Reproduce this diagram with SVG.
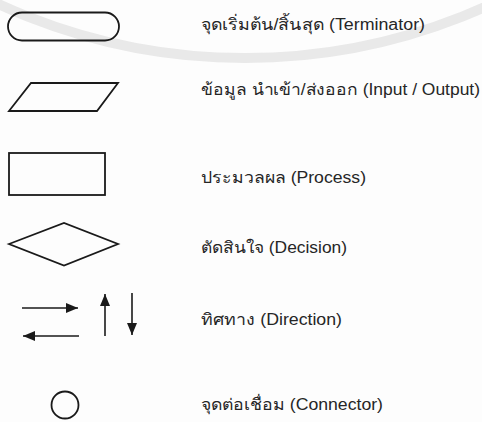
<svg xmlns="http://www.w3.org/2000/svg" width="482" height="422" viewBox="0 0 482 422">
<defs>
<marker id="ah" viewBox="0 0 12 10" refX="12" refY="5" markerWidth="12" markerHeight="10" markerUnits="userSpaceOnUse" orient="auto">
<path d="M0,0 L12,5 L0,10 Z" fill="#1a1a1a"/>
</marker>
<style>
.shape{fill:none;stroke:#1a1a1a;stroke-width:1.8;stroke-linejoin:miter}
.lbl{font-family:"Liberation Sans","Noto Sans",Arial,sans-serif;font-size:16px;fill:#262626}
.arr{stroke:#1a1a1a;stroke-width:1.6;fill:none}
</style>
</defs>
<rect width="482" height="422" fill="#fdfdfd"/>
<g id="watermark">
<circle cx="245" cy="-532" r="590" fill="none" stroke="#e9e9e9" stroke-width="10"/>
</g>
<g id="terminator">
<rect class="shape" x="8" y="12.5" width="111" height="28" rx="14" ry="14"/>
<text class="lbl" x="201" y="30" textLength="224" lengthAdjust="spacingAndGlyphs">จุดเริ่มต้น/สิ้นสุด (Terminator)</text>
</g>
<g id="io">
<polygon class="shape" points="31,83 118,83 97,111 9,111"/>
<text class="lbl" x="201" y="95" textLength="279" lengthAdjust="spacingAndGlyphs">ข้อมูล นำเข้า/ส่งออก (Input / Output)</text>
</g>
<g id="process">
<rect class="shape" x="9" y="153" width="96" height="42"/>
<text class="lbl" x="201" y="183" textLength="165" lengthAdjust="spacingAndGlyphs">ประมวลผล (Process)</text>
</g>
<g id="decision">
<polygon class="shape" points="9,244 64,223 118,244 64,265.5"/>
<text class="lbl" x="201" y="253" textLength="146" lengthAdjust="spacingAndGlyphs">ตัดสินใจ (Decision)</text>
</g>
<g id="direction">
<text class="lbl" x="201" y="325" textLength="141" lengthAdjust="spacingAndGlyphs">ทิศทาง (Direction)</text>
</g>
<g id="connectors">
<line class="arr" x1="22" y1="308" x2="78" y2="308" marker-end="url(#ah)"/>
<line class="arr" x1="79" y1="336" x2="23" y2="336" marker-end="url(#ah)"/>
<line class="arr" x1="105" y1="336" x2="105" y2="294" marker-end="url(#ah)"/>
<line class="arr" x1="132" y1="293" x2="132" y2="335" marker-end="url(#ah)"/>
</g>
<g id="connector">
<circle class="shape" cx="65" cy="405" r="13.5"/>
<text class="lbl" x="201" y="410" textLength="182" lengthAdjust="spacingAndGlyphs">จุดต่อเชื่อม (Connector)</text>
</g>
</svg>
